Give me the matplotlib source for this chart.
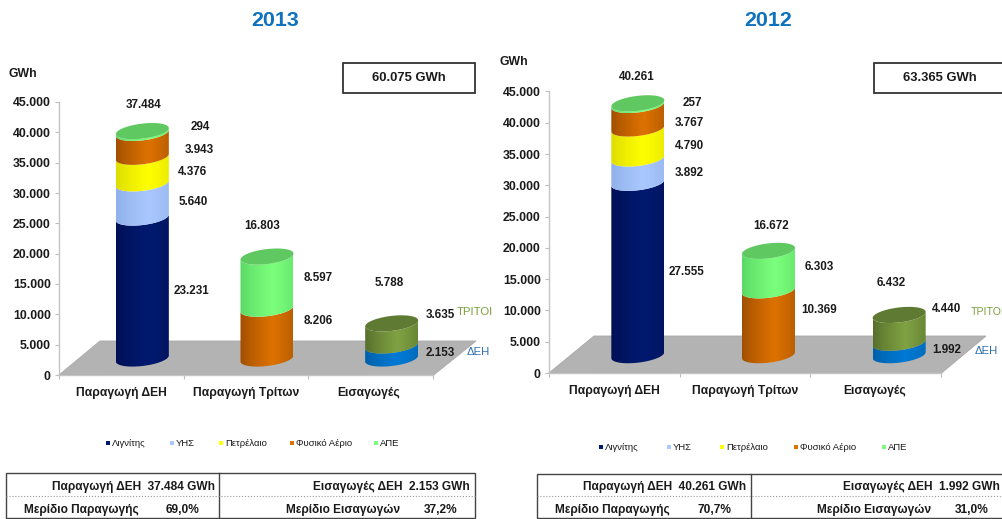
import numpy as np
import matplotlib
matplotlib.use('Agg')
import matplotlib.pyplot as plt
from matplotlib.patches import Polygon, Rectangle
from matplotlib.lines import Line2D

plt.rcParams['font.family'] = ['Liberation Sans', 'DejaVu Sans']

W, H = 1003, 519

categories = ['Παραγωγή ΔΕΗ', 'Παραγωγή Τρίτων', 'Εισαγωγές']
fuels = ['Λιγνίτης', 'ΥΗΣ', 'Πετρέλαιο', 'Φυσικό Αέριο', 'ΑΠΕ']
yticks = [0, 5000, 10000, 15000, 20000, 25000, 30000, 35000, 40000, 45000]

# segment values, bottom to top
dei_2013 = [23231, 5640, 4376, 3943, 294]
third_2013 = [8206, 8597]
imports_2013 = [2153, 3635]
total_2013 = 60075

dei_2012 = [27555, 3892, 4790, 3767, 257]
third_2012 = [10369, 6303]
imports_2012 = [1992, 4440]
total_2012 = 63365

share_2013 = ['69,0%', '37,2%']
share_2012 = ['70,7%', '31,0%']

# (edge, centre, top ellipse)
NAVY = ('#000f55', '#001a70', '#001a70')
SKY = ('#8fb0ea', '#aac8ff', '#aac8ff')
YEL = ('#dcdc00', '#ffff00', '#ffff00')
ORG = ('#a04e00', '#dd7200', '#dd7200')
GRN = ('#5ad866', '#7cff7c', '#5fc860')
OLV = ('#566e2c', '#80a242', '#5f7a32')
BLU = ('#0060a8', '#007ad6', '#007ad6')
fuel_colors = ['#001a70', '#aac8ff', '#ffff00', '#dd7200', '#7cff7c']

TEXT = '#1a1a1a'


def fmt(v):
    return f'{v:,}'.replace(',', '.')


def ptext(x, y, s, **kw):
    kw.setdefault('ha', 'center')
    kw.setdefault('va', 'center')
    kw.setdefault('color', TEXT)
    kw.setdefault('fontweight', 'bold')
    kw.setdefault('fontsize', 8.4)
    return fig.text(x / W, 1 - y / H, s, **kw)


def pline(x0, y0, x1, y1, **kw):
    fig.add_artist(Line2D([x0 / W, x1 / W], [1 - y0 / H, 1 - y1 / H], **kw))


def pbox(x0, y0, x1, y1, **kw):
    fig.add_artist(Rectangle((x0 / W, 1 - y1 / H), (x1 - x0) / W, (y1 - y0) / H,
                             transform=fig.transFigure, **kw))


def shade(col):
    edge, mid = matplotlib.colors.to_rgb(col[0]), matplotlib.colors.to_rgb(col[1])
    u = np.linspace(0, 1, 64)
    f = np.clip(1 - np.abs(u - 0.62) / 0.62, 0, 1) ** 0.8
    return np.array([[np.array(edge) * (1 - i) + np.array(mid) * i for i in f]])


def cylinder(ax, cx, base, values, colors, a, b, k):
    t = np.linspace(np.pi, 2 * np.pi, 60)
    low = base
    for v, col in zip(values, colors):
        high = low + v
        xs = cx + a * np.cos(t)
        arc = b * np.sin(t) + k * np.cos(t)
        pts = np.r_[np.c_[xs, low + arc], np.c_[xs[::-1], high + arc[::-1]]]
        clip = Polygon(pts, closed=True, fc='none', ec='none', clip_on=False, zorder=3)
        ax.add_patch(clip)
        im = ax.imshow(shade(col), extent=(cx - a, cx + a, low - 2 * (b + k), high + 2 * (b + k)),
                       aspect='auto', zorder=3, interpolation='bilinear')
        im.set_clip_path(clip)
        low = high
    t = np.linspace(0, 2 * np.pi, 120)
    ax.add_patch(Polygon(np.c_[cx + a * np.cos(t), low + b * np.sin(t) + k * np.cos(t)],
                         closed=True, fc=colors[-1][2], ec='none', clip_on=False, zorder=4))


def panel(left, right, top, bottom, stacks, colors, base, offset, floor_dx, floor_dy, floor_r):
    ax = fig.add_axes([left / W, 1 - bottom / H, (right - left) / W, (bottom - top) / H])
    ax.patch.set_alpha(0)
    unit = (right - left) / 3
    scale = (bottom - top) / 45000
    a = 26.5 / unit
    b = 7.5 / scale
    k = 3 / scale
    ax.add_patch(Polygon([(0, 0), (floor_dx / unit, floor_dy / scale),
                          (floor_r / unit, floor_dy / scale), (3, -0.5 / scale)],
                         closed=True, fc='#b3b3b3', ec='#a8a8a8', lw=0.6, clip_on=False, zorder=1))
    for i, vals in enumerate(stacks):
        cylinder(ax, i + 0.5 + offset / unit, base, vals, colors[i], a, b, k)
    ax.set_xlim(0, 3)
    ax.set_ylim(0, 45000)
    ax.set_xticks([0, 1, 2, 3])
    ax.set_xticklabels([])
    ax.set_yticks(yticks)
    ax.set_yticklabels([fmt(v) for v in yticks], fontsize=8.8, fontweight='bold', color=TEXT)
    ax.tick_params(axis='both', length=3, width=0.8, color='#bdbdbd', pad=3)
    for s in ['top', 'right']:
        ax.spines[s].set_visible(False)
    for s in ['left', 'bottom']:
        ax.spines[s].set_color('#c4c4c4')
        ax.spines[s].set_linewidth(1.0)
    return ax


fig = plt.figure(figsize=(W / 100, H / 100), dpi=100, facecolor='white')

colors_dei = [NAVY, SKY, YEL, ORG, GRN]
colors_third = [ORG, GRN]
colors_imp = [BLU, OLV]

panel(59, 433, 102, 375, [dei_2013, third_2013, imports_2013],
      [colors_dei, colors_third, colors_imp], 2720, 21, 41, 34, 417)
panel(549, 941, 91.5, 373, [dei_2012, third_2012, imports_2012],
      [colors_dei, colors_third, colors_imp], 2850, 23.5, 45, 37, 437)

# titles
ptext(275, 21, '2013', color='#0f72bd', fontsize=15.4)
ptext(768, 21, '2012', color='#0f72bd', fontsize=15.4)
ptext(23, 74, 'GWh', fontsize=8.8)
ptext(514, 62, 'GWh', fontsize=8.8)

# total boxes
pbox(343, 63, 475, 93, fc='white', ec='#333333', lw=1.3)
pbox(874, 63, 1010, 93, fc='white', ec='#333333', lw=1.3)
ptext(409, 78, fmt(total_2013) + ' GWh', fontsize=9.4)
ptext(940, 78, fmt(total_2012) + ' GWh', fontsize=9.4)

# category labels
for x, c in zip([121, 246, 369], categories):
    ptext(x, 393, c, fontsize=8.7)
for x, c in zip([614, 745, 875], categories):
    ptext(x, 391, c, fontsize=8.7)

# value labels 2013
ptext(144, 105, fmt(sum(dei_2013)))
for xy, v in zip([(192, 291), (193, 202), (193, 172), (199, 150), (200, 127.5)], dei_2013):
    ptext(xy[0], xy[1], fmt(v))
ptext(262, 226, fmt(sum(third_2013)))
for xy, v in zip([(318, 321), (318, 278)], third_2013):
    ptext(xy[0], xy[1], fmt(v))
ptext(389, 283, fmt(sum(imports_2013)))
for xy, v in zip([(440, 353), (440, 315)], imports_2013):
    ptext(xy[0], xy[1], fmt(v))
ptext(475, 312, 'ΤΡΙΤΟΙ', color='#7aa03c', fontweight='normal', fontsize=8.2)
ptext(478, 352, 'ΔΕΗ', color='#2f6fb0', fontweight='normal', fontsize=8.2)

# value labels 2012
ptext(637, 77, fmt(sum(dei_2012)))
for xy, v in zip([(687, 272), (689, 173), (689, 146), (689, 123), (692, 103)], dei_2012):
    ptext(xy[0], xy[1], fmt(v))
ptext(771, 226, fmt(sum(third_2012)))
for xy, v in zip([(819, 310), (819, 267)], third_2012):
    ptext(xy[0], xy[1], fmt(v))
ptext(891, 283, fmt(sum(imports_2012)))
for xy, v in zip([(947, 350), (947, 309)], imports_2012):
    ptext(xy[0], xy[1], fmt(v))
ptext(971, 312, 'ΤΡΙΤΟΙ', color='#7aa03c', fontweight='normal', fontsize=7.6, ha='left')
ptext(986, 351, 'ΔΕΗ', color='#2f6fb0', fontweight='normal', fontsize=8.2)

# legends
for xs, y in [([108, 172, 221, 292, 376], 443), ([601, 669, 722, 796, 884], 447)]:
    for x, name, col in zip(xs, fuels, fuel_colors):
        pbox(x - 2, y - 2, x + 2, y + 2, fc=col, ec='none')
        ptext(x + 4, y, name, ha='left', fontsize=6.8, fontweight='normal')


def table(x0, x1, xm, top, sep, bottom, r1, r2, row1a, row1b, row2, y1=487, y2=510):
    pbox(x0, top, x1, bottom, fc='none', ec='#444444', lw=1.0)
    pline(xm, top, xm, bottom, color='#444444', lw=1.0)
    pline(x0, sep, x1, sep, color='#999999', lw=0.8, ls=':')
    ptext(r1, y1, row1a, ha='right', fontsize=8.6)
    ptext(r2, y1, row1b, ha='right', fontsize=8.6)
    for x, s in row2:
        ptext(x, y2, s, ha='left', fontsize=8.6)


table(6, 475, 219, 473, 496, 518, 215, 470,
      f'Παραγωγή ΔΕΗ  {fmt(sum(dei_2013))} GWh', f'Εισαγωγές ΔΕΗ  {fmt(imports_2013[0])} GWh',
      [(24, 'Μερίδιο Παραγωγής'), (166, share_2013[0]), (286, 'Μερίδιο Εισαγωγών'), (424, share_2013[1])])
table(537, 1010, 751, 474, 496, 518, 746, 1000,
      f'Παραγωγή ΔΕΗ  {fmt(sum(dei_2012))} GWh', f'Εισαγωγές ΔΕΗ  {fmt(imports_2012[0])} GWh',
      [(555, 'Μερίδιο Παραγωγής'), (697, share_2012[0]), (817, 'Μερίδιο Εισαγωγών'), (955, share_2012[1])])

fig.savefig('out.png', dpi=100)
